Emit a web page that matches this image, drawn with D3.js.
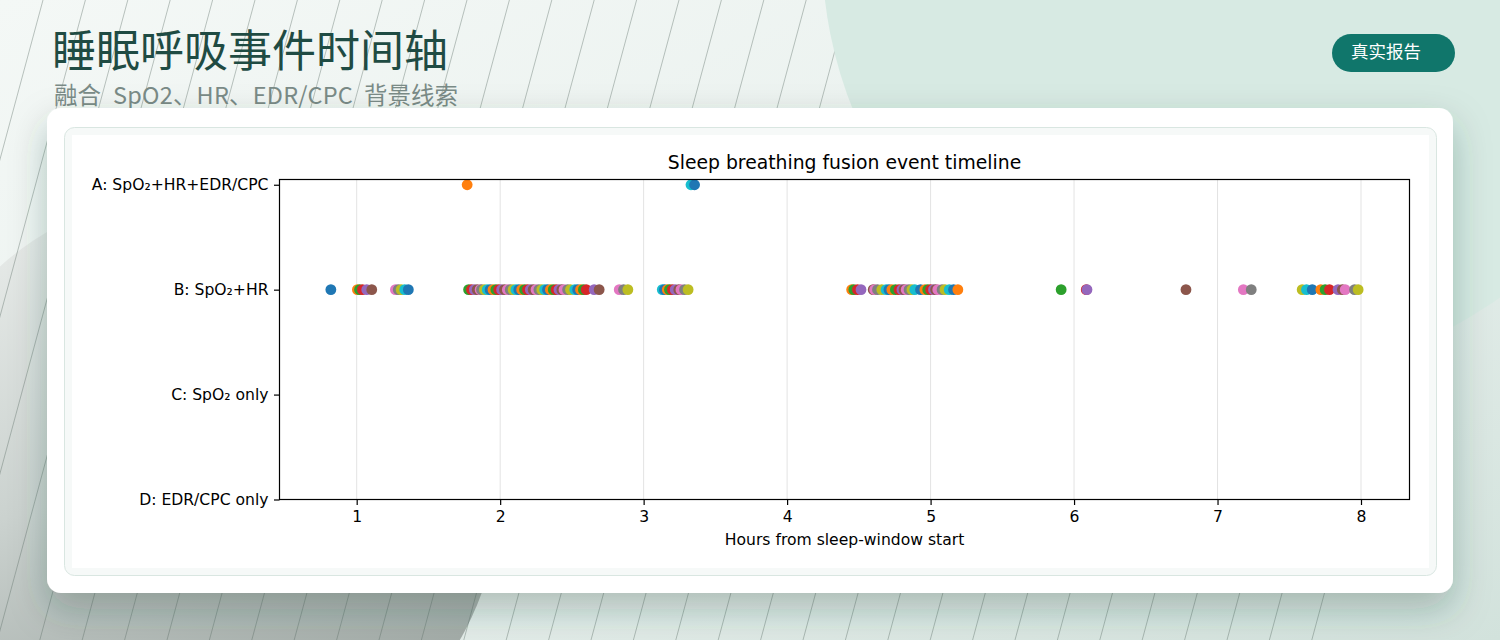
<!DOCTYPE html>
<html><head><meta charset="utf-8">
<script src="https://cdn.jsdelivr.net/npm/d3@7/dist/d3.min.js"></script>
<style>
html,body{margin:0;padding:0;width:1500px;height:640px;overflow:hidden;background:#f2f6f4;}
svg{display:block;}
</style></head>
<body>
<svg id="page" width="1500" height="640"></svg>
<script>
// ---------- data ----------
const titleText = "睡眠呼吸事件时间轴";
const subtitleParts = ["融合", "SpO2、HR、EDR/CPC", "背景线索"];
const badgeText = "真实报告";
const chartTitle = "Sleep breathing fusion event timeline";
const xLabel = "Hours from sleep-window start";
const tierLabels = ["D: EDR/CPC only", "C: SpO₂ only", "B: SpO₂+HR", "A: SpO₂+HR+EDR/CPC"];
const tierCodes = ["D", "C", "B", "A"];
const xTicks = [1, 2, 3, 4, 5, 6, 7, 8];
// events in time order (hours from sleep-window start)
const eventHours = [
  0.82, 1.005, 1.02, 1.04, 1.07, 1.105, 1.27, 1.29, 1.31, 1.335, 1.36,
  1.77,
  1.78, 1.80, 1.82, 1.84, 1.86, 1.87, 1.89, 1.91, 1.93, 1.95,
  1.97, 1.99, 2.01, 2.03, 2.05, 2.07, 2.09, 2.11, 2.13, 2.15,
  2.17, 2.19, 2.21, 2.23, 2.25, 2.27, 2.29, 2.31, 2.33, 2.35,
  2.37, 2.39, 2.41, 2.43, 2.445, 2.47, 2.49, 2.52, 2.54, 2.56,
  2.58, 2.60, 2.655, 2.69,
  2.83, 2.86, 2.89,
  3.13, 3.145, 3.165, 3.18, 3.20, 3.22, 3.245, 3.26, 3.285, 3.31,
  3.33, 3.355,
  4.45, 4.465, 4.49, 4.515,
  4.60, 4.61, 4.63, 4.66, 4.69, 4.71, 4.73, 4.755, 4.78, 4.80,
  4.815, 4.83, 4.85, 4.87, 4.89, 4.93, 4.96, 4.98, 5.00, 5.02,
  5.035, 5.05, 5.08, 5.10, 5.13, 5.16, 5.19,
  5.91, 6.085, 6.09, 6.78, 7.18, 7.235,
  7.59, 7.62, 7.66, 7.72, 7.75, 7.78, 7.84, 7.87, 7.89, 7.955, 7.98
];
const eventTier = eventHours.map((h, i) => (i === 11 || i === 69 || i === 70) ? "A" : "B");

// ---------- page ----------
const svg = d3.select("#page");
const defs = svg.append("defs");

const bg = defs.append("linearGradient").attr("id","bg").attr("x1","0").attr("y1","0").attr("x2","1").attr("y2","1");
bg.append("stop").attr("offset","0").attr("stop-color","#f4f8f6");
bg.append("stop").attr("offset","0.55").attr("stop-color","#e8f0ed");
bg.append("stop").attr("offset","1").attr("stop-color","#d2e2dc");

const grey = defs.append("linearGradient").attr("id","greyc").attr("x1","0").attr("y1","0").attr("x2","0.3").attr("y2","1");
grey.append("stop").attr("offset","0").attr("stop-color","#eef1ef");
grey.append("stop").attr("offset","0.55").attr("stop-color","#cbd2cf");
grey.append("stop").attr("offset","1").attr("stop-color","#9ea7a3");

const shadow = defs.append("filter").attr("id","shadow").attr("x","-20%").attr("y","-20%").attr("width","140%").attr("height","150%");
shadow.append("feDropShadow").attr("dx",0).attr("dy",16).attr("stdDeviation",18)
  .attr("flood-color","#1d3f37").attr("flood-opacity",0.28);

svg.append("rect").attr("width",1500).attr("height",640).attr("fill","url(#bg)");
svg.append("circle").attr("cx",200).attr("cy",490).attr("r",300).attr("fill","url(#greyc)");

// diagonal hairlines
const lineStarts = d3.range(0, 35).map(k => 43 + 42.4 * k);
svg.append("g").selectAll("line").data(lineStarts).join("line")
  .attr("x1", d => d).attr("y1", 0)
  .attr("x2", d => d - 0.27 * 640).attr("y2", 640)
  .attr("stroke", "#5d6f69").attr("stroke-opacity", 0.45).attr("stroke-width", 0.9);

svg.append("circle").attr("cx",1250).attr("cy",-50).attr("r",428).attr("fill","#d7eae3");

// header
svg.append("text").attr("x",52).attr("y",67)
  .attr("font-family","'Noto Sans CJK SC', 'Noto Sans', sans-serif")
  .attr("font-size",44).attr("font-weight",400).attr("fill","#1f4b43").text(titleText);

const sub = svg.append("text").attr("y",104)
  .attr("font-family","'Noto Sans CJK SC', 'Noto Sans', sans-serif")
  .attr("font-size",23.5).attr("fill","#7a8b87");
const subX = [54, 113, 364];
const subSpans = sub.selectAll("tspan").data(subtitleParts).join("tspan")
  .attr("x", (d, i) => subX[i]).text(d => d);
{
  const latin = subSpans.filter((d, i) => i === 1);
  const w = latin.node().getComputedTextLength();
  const n = subtitleParts[1].length;
  const ls = (subX[2] - 11 - subX[1] - w) / n;
  latin.attr("letter-spacing", ls);
}

svg.append("rect").attr("x",1332).attr("y",34).attr("width",123).attr("height",38).attr("rx",19)
  .attr("fill","#10766b");
svg.append("text").attr("x",1351).attr("y",58)
  .attr("font-family","'Noto Sans CJK SC', sans-serif")
  .attr("font-size",17.5).attr("fill","#ffffff").text(badgeText);

// card
svg.append("rect").attr("x",47).attr("y",108).attr("width",1406).attr("height",485).attr("rx",14)
  .attr("fill","#ffffff").attr("filter","url(#shadow)");
svg.append("rect").attr("x",64.5).attr("y",127.5).attr("width",1372).attr("height",448).attr("rx",10)
  .attr("fill","#f6f9f8").attr("stroke","#d9e6e1").attr("stroke-width",1);
svg.append("rect").attr("x",72).attr("y",135).attr("width",1357).attr("height",433).attr("fill","#ffffff");

// ---------- chart ----------
const plotL = 279.5, plotR = 1409.5, plotT = 179.5, plotB = 499.5;
const ext = d3.extent(eventHours);
const pad = (ext[1] - ext[0]) * 0.05;
const x = d3.scaleLinear().domain([ext[0] - pad, ext[1] + pad]).range([plotL, plotR]);
const y = d3.scaleLinear().domain([0, 3.05]).range([plotB, plotT]);
const tierIndex = t => tierCodes.indexOf(t);
const color = d3.scaleOrdinal(d3.schemeCategory10);

const chart = svg.append("g").attr("font-family","'DejaVu Sans', sans-serif");

// grid
chart.append("g").selectAll("line").data(xTicks).join("line")
  .attr("x1", d => x(d)).attr("x2", d => x(d)).attr("y1", plotT).attr("y2", plotB)
  .attr("stroke","#e3e3e3").attr("stroke-width",1);

// points
chart.append("g").selectAll("circle").data(eventHours).join("circle")
  .attr("cx", d => x(d))
  .attr("cy", (d, i) => y(tierIndex(eventTier[i])))
  .attr("r", 5.4)
  .attr("fill", (d, i) => color(i % 10));

// axes
const tickFont = 15.6;
const xAxis = d3.axisBottom(x).tickValues(xTicks).tickSize(5.5).tickPadding(5.5).tickFormat(d3.format("d"));
const gx = chart.append("g").attr("transform",`translate(0,${plotB})`).call(xAxis);
gx.select(".domain").remove();
gx.selectAll("text").attr("font-size",tickFont).attr("fill","#000").attr("font-family","'DejaVu Sans', sans-serif");
gx.selectAll("line").attr("stroke","#000").attr("stroke-width",1.2);

const yAxis = d3.axisLeft(y).tickValues([0,1,2,3]).tickSize(5.5).tickPadding(5.5).tickFormat(d => tierLabels[d]);
const gy = chart.append("g").attr("transform",`translate(${plotL},0)`).call(yAxis);
gy.select(".domain").remove();
gy.selectAll("text").attr("font-size",tickFont).attr("fill","#000").attr("font-family","'DejaVu Sans', sans-serif");
gy.selectAll("line").attr("stroke","#000").attr("stroke-width",1.2);

chart.append("rect").attr("x",plotL).attr("y",plotT).attr("width",plotR-plotL).attr("height",plotB-plotT)
  .attr("fill","none").attr("stroke","#000").attr("stroke-width",1.2);

chart.append("text").attr("x",(plotL+plotR)/2).attr("y",169).attr("text-anchor","middle")
  .attr("font-size",18.8).attr("fill","#000").text(chartTitle);
chart.append("text").attr("x",(plotL+plotR)/2).attr("y",545).attr("text-anchor","middle")
  .attr("font-size",tickFont).attr("fill","#000").text(xLabel);
</script>
</body></html>
